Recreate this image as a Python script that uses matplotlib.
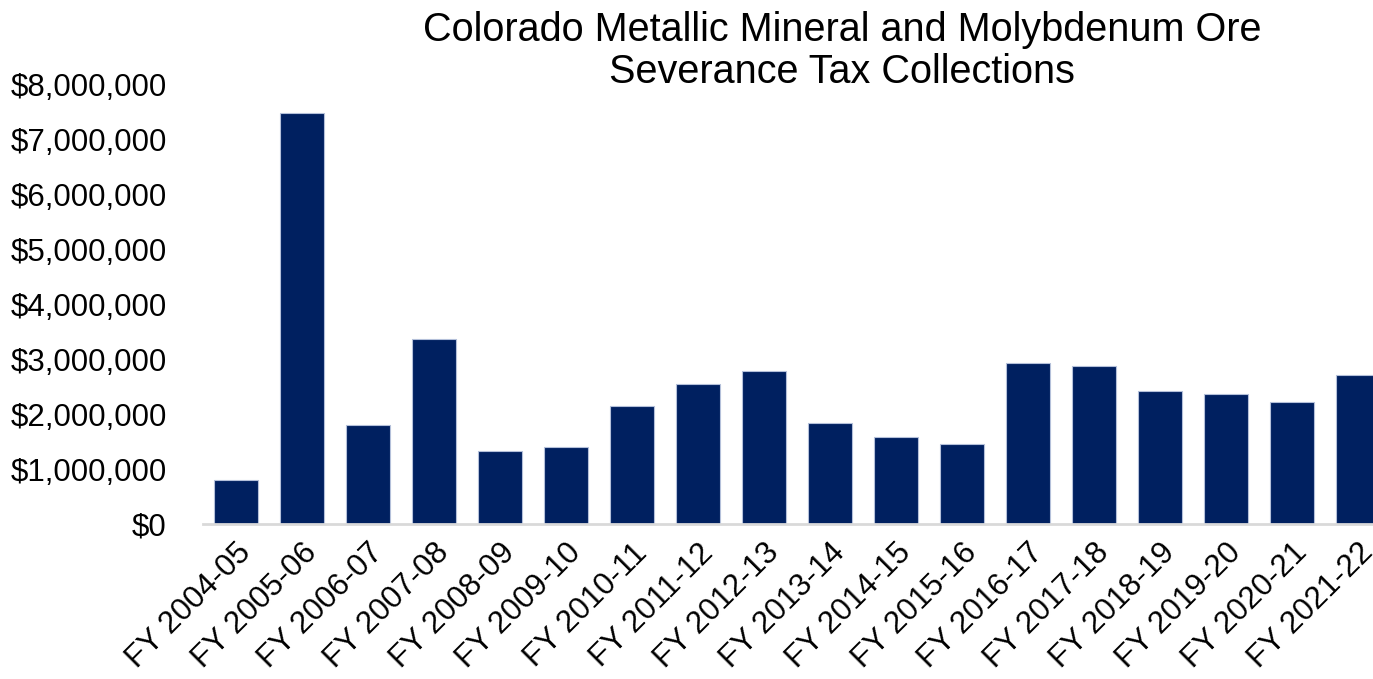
import matplotlib.pyplot as plt
from matplotlib.ticker import FuncFormatter

plt.rcParams['font.family'] = ['Liberation Sans', 'DejaVu Sans']

years = ['FY 2004-05', 'FY 2005-06', 'FY 2006-07', 'FY 2007-08', 'FY 2008-09',
         'FY 2009-10', 'FY 2010-11', 'FY 2011-12', 'FY 2012-13', 'FY 2013-14',
         'FY 2014-15', 'FY 2015-16', 'FY 2016-17', 'FY 2017-18', 'FY 2018-19',
         'FY 2019-20', 'FY 2020-21', 'FY 2021-22']
collections = [800000, 7490000, 1810000, 3370000, 1330000,
               1400000, 2140000, 2540000, 2780000, 1830000,
               1580000, 1460000, 2930000, 2870000, 2430000,
               2360000, 2220000, 2710000]

W, H = 1373, 679
fig = plt.figure(figsize=(W / 100, H / 100), dpi=100)
# axes runs past the right edge of the figure, so the last bar is cut off
ax = fig.add_axes([203 / W, 1 - 524 / H, (1391 - 203) / W, (524 - 84.5) / H])

ax.bar(range(len(years)), collections, width=0.667, color='#002060',
       edgecolor='#B4C0DA', linewidth=0.8, zorder=2)

ax.set_xlim(-0.5, len(years) - 0.5)
ax.set_ylim(0, 8000000)
ax.set_yticks(range(0, 8000001, 1000000))
ax.yaxis.set_major_formatter(FuncFormatter(lambda v, p: '${:,.0f}'.format(v)))
ax.set_xticks(range(len(years)))
ax.set_xticklabels(years, rotation=45, ha='right', rotation_mode='anchor')

for s in ['top', 'right', 'left']:
    ax.spines[s].set_visible(False)
ax.spines['bottom'].set_color('#D9D9D9')
ax.spines['bottom'].set_linewidth(2)
ax.tick_params(axis='both', length=0, labelsize=22.5, colors='black')
ax.tick_params(axis='y', pad=26)
ax.tick_params(axis='x', pad=10)

fig.text(842 / W, 1 - 30 / H, 'Colorado Metallic Mineral and Molybdenum Ore',
         ha='center', va='center', fontsize=28.5)
fig.text(842 / W, 1 - 72 / H, 'Severance Tax Collections',
         ha='center', va='center', fontsize=28.5)

fig.savefig('out.png', dpi=100)
